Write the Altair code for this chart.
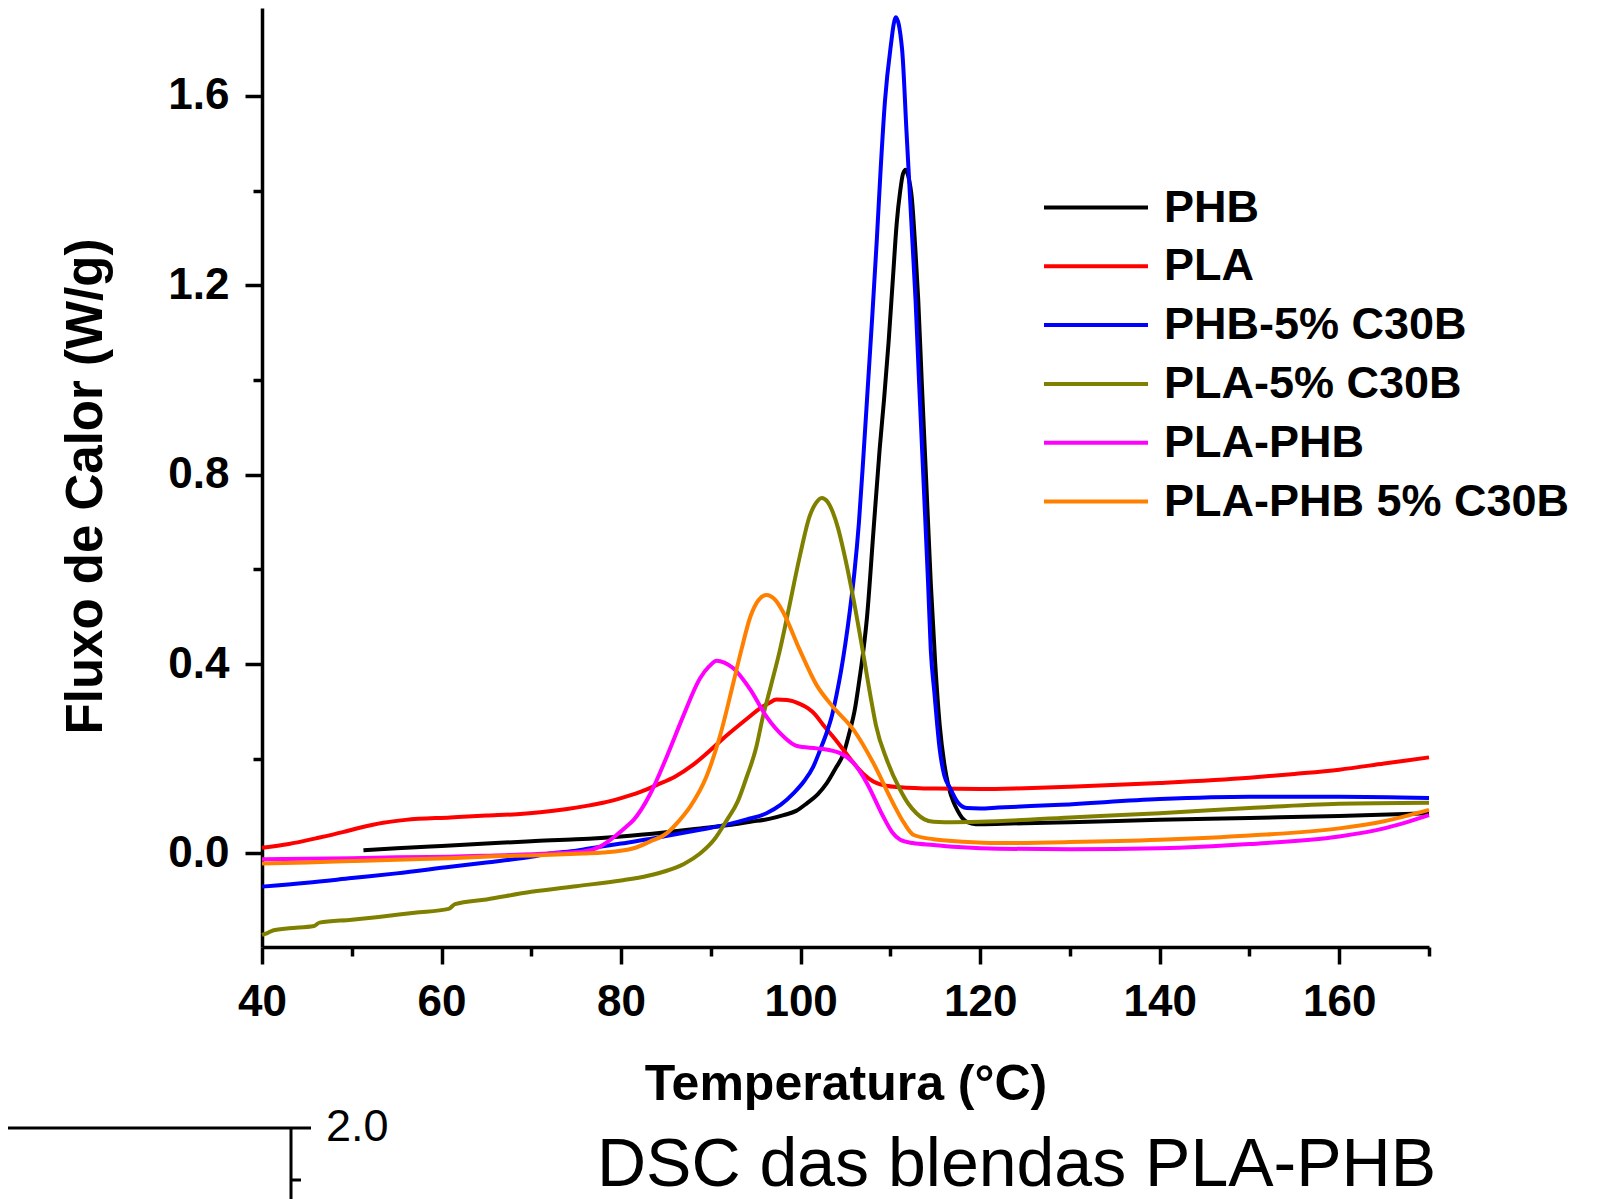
import altair as alt
import pandas as pd

series_names = ["PHB", "PLA", "PHB-5% C30B", "PLA-5% C30B", "PLA-PHB", "PLA-PHB 5% C30B"]
series_colors = ["#000000", "#FF0000", "#0000FF", "#808000", "#FF00FF", "#FF8000"]

phb_t = [51.3, 55, 60, 65, 70, 75, 80, 85, 88.8, 92, 94.4, 96.5, 98.1, 99.5, 100.7, 101.9, 102.9, 103.9, 104.8, 105.5,
         106.0, 106.6, 107.0, 107.4, 108.1, 108.8, 109.3, 109.8, 110.3, 110.7, 111.1, 111.4, 111.7, 112.0, 112.4,
         112.8, 113.1, 113.5, 114.0, 114.5, 115.0, 115.5, 116.0, 116.5, 117.0, 117.5, 118.0, 118.6, 119.5, 120.5, 125,
         130, 140, 150, 160, 170]
phb_v = [0.007, 0.011, 0.016, 0.021, 0.026, 0.030, 0.036, 0.045, 0.053, 0.060, 0.067, 0.073, 0.081, 0.090, 0.106, 0.125,
         0.148, 0.180, 0.212, 0.260, 0.300, 0.374, 0.430, 0.500, 0.677, 0.853, 0.960, 1.080, 1.220, 1.330, 1.400,
         1.435, 1.444, 1.430, 1.382, 1.270, 1.170, 0.994, 0.783, 0.571, 0.400, 0.270, 0.190, 0.140, 0.110, 0.090, 0.075,
         0.066, 0.062, 0.062, 0.064, 0.066, 0.071, 0.075, 0.079, 0.085]

pla_t = [40, 43, 46, 49, 51, 53.5, 56, 61, 65, 68.4, 71, 74, 76, 78, 80, 82, 84, 86, 88, 90, 91.5, 93.2, 94.5, 95.5,
         96.5, 97.3, 98.5, 99.9, 100.8, 101.6, 102.5, 103.6, 104.8, 105.9, 107.0, 108.1, 109.5, 111.1, 115, 120, 125,
         130, 140, 150, 155, 160, 165, 170]
pla_v = [0.012, 0.020, 0.032, 0.045, 0.055, 0.065, 0.071, 0.076, 0.080, 0.083, 0.087, 0.094, 0.100, 0.107, 0.117, 0.129,
         0.145, 0.162, 0.187, 0.219, 0.245, 0.272, 0.292, 0.307, 0.318, 0.325, 0.324, 0.316, 0.307, 0.294, 0.272, 0.247,
         0.218, 0.191, 0.168, 0.152, 0.143, 0.140, 0.137, 0.136, 0.138, 0.141, 0.149, 0.160, 0.168, 0.177, 0.190, 0.203]

phbc_t = [40, 45, 50, 55, 61, 65, 70, 72, 75, 77.6, 80, 83, 85, 88.8, 92, 94, 96.2, 97.8, 99.2, 100.4, 101.4, 102.2,
          102.9, 103.5, 104.0, 104.5, 105.0, 105.5, 106.0, 106.5, 107.0, 107.5, 108.0, 108.5, 108.9, 109.4, 110.0, 110.6,
          111.3, 111.8, 112.4, 112.8, 113.2, 113.7, 114.2, 114.5, 114.9, 115.5, 116.0, 116.6, 117.5, 118.5, 120, 122,
          129, 140, 150, 160, 170]
phbc_v = [-0.070, -0.062, -0.052, -0.042, -0.028, -0.019, -0.007, 0.000, 0.006, 0.014, 0.021, 0.030, 0.037, 0.050,
          0.062, 0.072, 0.085, 0.103, 0.127, 0.153, 0.183, 0.220, 0.255, 0.292, 0.335, 0.385, 0.445, 0.515, 0.595,
          0.700, 0.840, 0.990, 1.140, 1.300, 1.440, 1.590, 1.699, 1.766, 1.699, 1.523, 1.311, 1.170, 0.994, 0.783,
          0.571, 0.430, 0.340, 0.219, 0.165, 0.140, 0.108, 0.096, 0.095, 0.097, 0.103, 0.115, 0.120, 0.120, 0.117]

plac_t = [40, 40.6, 41.3, 43, 45.8, 46.4, 50, 53, 57, 60.8, 61.5, 65, 70, 75, 80, 83, 85, 87, 88.8, 90.4, 91.8, 93.0,
          94.0, 95.0, 95.8, 96.7, 97.7, 98.5, 99.9, 101.0, 101.7, 102.35, 103.0, 103.6, 104.2, 104.75, 105.9, 106.9,
          107.9, 108.4, 109.6, 111.1, 112.0, 112.9, 113.8, 114.8, 116, 120, 130, 140, 150, 160, 170]
plac_v = [-0.172, -0.168, -0.162, -0.158, -0.153, -0.146, -0.140, -0.134, -0.125, -0.117, -0.107, -0.097, -0.081,
          -0.069, -0.057, -0.047, -0.037, -0.022, 0.000, 0.030, 0.071, 0.110, 0.162, 0.220, 0.289, 0.355, 0.430, 0.500,
          0.627, 0.712, 0.740, 0.751, 0.743, 0.720, 0.685, 0.642, 0.536, 0.430, 0.320, 0.270, 0.198, 0.134, 0.105,
          0.085, 0.072, 0.067, 0.066, 0.067, 0.076, 0.085, 0.096, 0.105, 0.107]

blend_t = [40, 45, 50, 55, 61, 66, 72, 75.8, 77.6, 79.5, 80.6, 81.4, 83.2, 85.1, 86.9, 88.8, 89.8, 90.65, 91.5, 92.5,
           94.4, 96.2, 98.1, 99.6, 101.8, 103.3, 104.4, 105.9, 107.4, 109.2, 110.2, 111.1, 112.5, 114.8, 118, 122, 130,
           140, 150, 160, 165, 170]
blend_v = [-0.012, -0.011, -0.010, -0.008, -0.007, -0.004, 0.000, 0.004, 0.014, 0.039, 0.057, 0.071, 0.124, 0.205,
           0.289, 0.370, 0.395, 0.407, 0.403, 0.391, 0.346, 0.289, 0.247, 0.227, 0.222, 0.218, 0.212, 0.191, 0.148,
           0.078, 0.045, 0.029, 0.022, 0.018, 0.013, 0.010, 0.009, 0.011, 0.020, 0.036, 0.053, 0.081]

blendc_t = [40, 45, 50, 55, 61, 66, 70, 75.8, 78, 81.4, 83.2, 85.1, 86.5, 87.7, 89.5, 91.0, 92.5, 93.4, 94.4, 95.3,
            96.2, 97.2, 98.1, 99.9, 101.8, 103.6, 105.9, 108.1, 110.3, 111.5, 112.6, 114.8, 118, 122, 130, 140, 150,
            160, 165, 170]
blendc_v = [-0.021, -0.019, -0.016, -0.013, -0.010, -0.006, -0.004, 0.000, 0.002, 0.011, 0.025, 0.043, 0.070, 0.099,
            0.162, 0.247, 0.360, 0.430, 0.500, 0.535, 0.546, 0.535, 0.508, 0.430, 0.355, 0.310, 0.261, 0.191, 0.106,
            0.065, 0.039, 0.030, 0.025, 0.022, 0.024, 0.029, 0.038, 0.053, 0.068, 0.092]

x_ticks = [40, 50, 60, 70, 80, 90, 100, 110, 120, 130, 140, 150, 160, 170]
y_ticks = [-0.2, 0.0, 0.2, 0.4, 0.6, 0.8, 1.0, 1.2, 1.4, 1.6]

x_title = "Temperatura (°C)"
y_title = "Fluxo de Calor (W/g)"
main_title = "DSC das blendas PLA-PHB"
fragment_label = "2.0"

all_t = [phb_t, pla_t, phbc_t, plac_t, blend_t, blendc_t]
all_v = [phb_v, pla_v, phbc_v, plac_v, blend_v, blendc_v]
rows = []
for name, ts, vs in zip(series_names, all_t, all_v):
    assert len(ts) == len(vs), name
    for t, v in zip(ts, vs):
        rows.append({"T": t, "V": v, "Amostra": name})
df = pd.DataFrame(rows)

FONT = "Liberation Sans"

x_axis = alt.Axis(
    title=x_title, values=x_ticks,
    labelExpr="datum.value % 20 == 0 ? datum.value : ''",
    tickSize={"condition": {"test": "datum.value % 20 == 0", "value": 17}, "value": 9},
    grid=False, domainColor="black", domainWidth=3.5, tickColor="black", tickWidth=3.5,
    labelFont=FONT, labelFontSize=44, labelFontWeight="bold", labelColor="black",
    labelPadding=16, labelOverlap=False, labelFlush=False, labelBound=False,
    titleFont=FONT, titleFontSize=50, titleFontWeight="bold", titleColor="black",
    titleY=152, titleBaseline="alphabetic",
)
y_axis = alt.Axis(
    title=y_title, values=y_ticks,
    labelExpr="round(datum.value * 10) % 4 == 0 ? format(datum.value, '.1f') : ''",
    tickSize={"condition": {"test": "round(datum.value * 10) % 4 == 0", "value": 17}, "value": 9},
    grid=False, domainColor="black", domainWidth=3.5, tickColor="black", tickWidth=3.5,
    labelFont=FONT, labelFontSize=44, labelFontWeight="bold", labelColor="black",
    labelPadding=16, labelOverlap=False, labelFlush=False, labelBound=False,
    titleFont=FONT, titleFontSize=51, titleFontWeight="bold", titleColor="black",
    titleX=-176, titleY=478, titleBaseline="middle", titleAngle=270,
)

legend = alt.Legend(
    title=None, orient="none", legendX=806, legendY=171.5,
    symbolType="M-2,0H2", symbolSize=2704, symbolStrokeWidth=4,
    symbolOffset=0, labelOffset=40, rowPadding=7.8, padding=0,
    labelFont=FONT, labelFontSize=45, labelFontWeight="bold", labelColor="black",
    labelLimit=800,
)

lines = alt.Chart(df).mark_line(strokeWidth=4, interpolate="monotone").encode(
    x=alt.X("T:Q", scale=alt.Scale(domain=[40, 170], nice=False, zero=False), axis=x_axis),
    y=alt.Y("V:Q", scale=alt.Scale(domain=[-0.1975, 1.7856], nice=False, zero=False), axis=y_axis),
    color=alt.Color("Amostra:N", scale=alt.Scale(domain=series_names, range=series_colors),
                    sort=series_names, legend=legend),
)

title_df = pd.DataFrame({"txt": [main_title]})
title_mark = alt.Chart(title_df).mark_text(
    font=FONT, fontSize=68, align="left", baseline="alphabetic", color="black"
).encode(text="txt:N", x=alt.value(335), y=alt.value(1178))

frag_df = pd.DataFrame({"txt": [fragment_label]})
frag_text = alt.Chart(frag_df).mark_text(
    font=FONT, fontSize=45, align="left", baseline="alphabetic", color="black"
).encode(text="txt:N", x=alt.value(64), y=alt.value(1133))
frag_h = alt.Chart(frag_df).mark_rule(color="black", strokeWidth=3).encode(
    x=alt.value(-254), x2=alt.value(49), y=alt.value(1120))
frag_v = alt.Chart(frag_df).mark_rule(color="black", strokeWidth=3).encode(
    x=alt.value(29), y=alt.value(1120), y2=alt.value(1200))
frag_m = alt.Chart(frag_df).mark_rule(color="black", strokeWidth=3).encode(
    x=alt.value(29), x2=alt.value(39), y=alt.value(1172))

chart = alt.layer(lines, title_mark, frag_text, frag_h, frag_v, frag_m).properties(
    width=1167, height=939,
    autosize=alt.AutoSizeParams(type="none"),
    padding={"left": 254, "top": 0, "right": 180, "bottom": 252},
    background="white",
).configure_view(stroke=None)

chart.save("out.html", embed_options={"renderer": "svg", "actions": False})
